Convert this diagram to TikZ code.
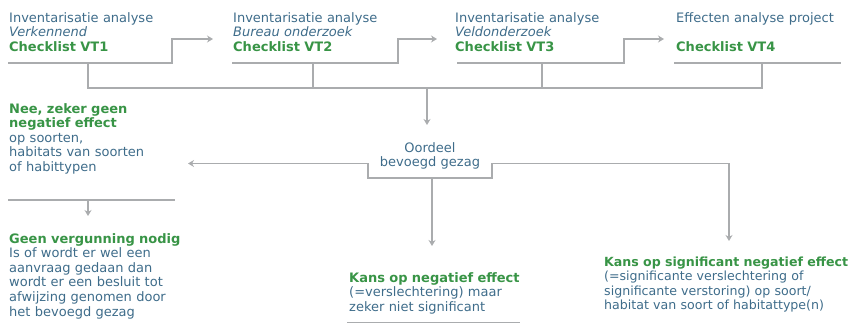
\documentclass[tikz,border=0pt]{standalone}
\usepackage{fontspec}
\setmainfont{DejaVu Sans}
\usetikzlibrary{arrows.meta}
\definecolor{tblue}{RGB}{62,108,138}
\definecolor{tgreen}{RGB}{56,148,70}
\definecolor{lgray}{RGB}{170,172,174}
\begin{document}
\begin{tikzpicture}[x=1pt,y=-1pt,
  txt/.style={inner sep=0pt, anchor=base west, align=left, text width=#1,
    font=\fontsize{13}{14.6}\selectfont, text=tblue},
  ctxt/.style={inner sep=0pt, anchor=base, align=center, text width=#1,
    font=\fontsize{13}{14.6}\selectfont, text=tblue},
  ln/.style={draw=lgray, line width=1.8pt},
  tip/.tip={Stealth[length=6pt,width=7pt]},
  arr/.style={ln, -tip}]
\useasboundingbox (0,0) rectangle (854,324);
% top row
\node[txt=200pt] (vt1) at (9,22) {Inventarisatie analyse\\\textit{Verkennend}\\\textcolor{tgreen}{\textbf{Checklist VT1}}};
\node[txt=200pt] (vt2) at (233,22) {Inventarisatie analyse\\\textit{Bureau onderzoek}\\\textcolor{tgreen}{\textbf{Checklist VT2}}};
\node[txt=200pt] (vt3) at (455,22) {Inventarisatie analyse\\\textit{Veldonderzoek}\\\textcolor{tgreen}{\textbf{Checklist VT3}}};
\node[txt=178pt] (vt4) at (676,22) {Effecten analyse project\\~\\\textcolor{tgreen}{\textbf{Checklist VT4}}};
% underlines with arrows to next box
\coordinate (u1a) at (8,63);   \coordinate (u1b) at (172,39);  \coordinate (a1) at (213,39);
\coordinate (u2a) at (232,63); \coordinate (u2b) at (398,39);  \coordinate (a2) at (437,39);
\coordinate (u3a) at (457,63); \coordinate (u3b) at (624,39);  \coordinate (a3) at (664,39);
\draw[arr] (u1a) -| (u1b) -- (a1);
\draw[arr] (u2a) -| (u2b) -- (a2);
\draw[arr] (u3a) -| (u3b) -- (a3);
\draw[ln] (674,63) -- (841,63);
% bus
\coordinate (b1) at (88,88);
\coordinate (b4) at (762,88);
\draw[ln] (88,63) -- (b1) -- (b4) -- (762,63);
\draw[ln] (313,63) -- (313,88);
\draw[ln] (542,63) -- (542,88);
% oordeel
\node[ctxt=140pt] (oordeel) at (430,152) {Oordeel\\bevoegd gezag};
\coordinate (otop) at (427,125);
\draw[arr] (427,88) -- (otop);
\coordinate (lt) at (188,163.5);
\coordinate (rt) at (729,241);
\draw[ln, tip-tip] (lt) -- (368,163.5) -- (368,178) -- (492,178) -- (492,163.5) -- (729,163.5) -- (rt);
\draw[arr] (432,178) -- (432,246);
% left column
\node[txt=180pt] (nee) at (9,113) {\textcolor{tgreen}{\textbf{Nee, zeker geen}}\\\textcolor{tgreen}{\textbf{negatief effect}}\\op soorten,\\habitats van soorten\\of habittypen};
\draw[ln] (8,200) -- (175,200);
\draw[arr] (88,200) -- (88,216);
\node[txt=220pt] (geen) at (9,243) {\textcolor{tgreen}{\textbf{Geen vergunning nodig}}\\Is of wordt er wel een\\aanvraag gedaan dan\\wordt er een besluit tot\\afwijzing genomen door\\het bevoegd gezag};
% bottom middle
\node[txt=220pt] (kans) at (349,282) {\textcolor{tgreen}{\textbf{Kans op negatief effect}}\\(=verslechtering) maar\\zeker niet significant};
\draw[ln, line width=1.2pt] (347,322.5) -- (520,322.5);
% bottom right
\node[txt=250pt, font=\fontsize{12.6}{14.6}\selectfont] (sig) at (604,266) {\textcolor{tgreen}{\textbf{Kans op significant negatief effect}}\\(=significante verslechtering of\\significante verstoring) op soort/\\habitat van soort of habitattype(n)};
\end{tikzpicture}
\end{document}
